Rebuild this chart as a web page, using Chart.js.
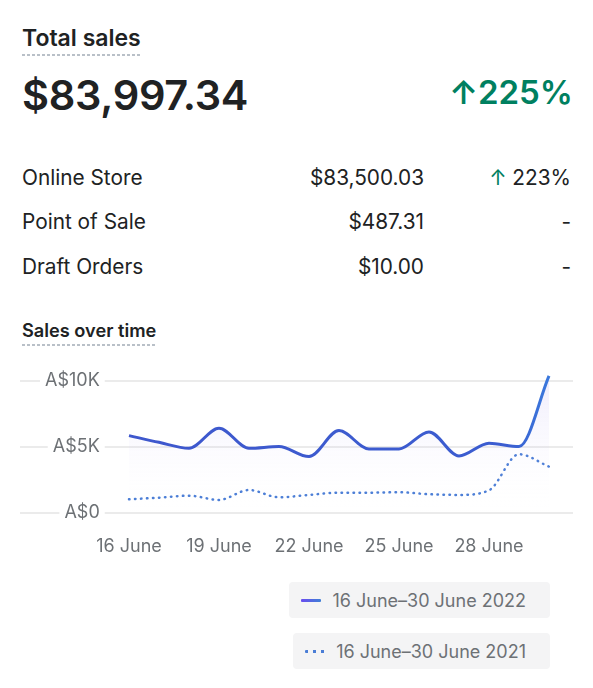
<!DOCTYPE html>
<html>
<head>
<meta charset="utf-8">
<script src="https://cdn.jsdelivr.net/npm/chart.js@4.4.1/dist/chart.umd.min.js"></script>
<style>
  body { margin: 0; width: 593px; height: 688px; background: #fff; font-family: Inter, "Noto Sans", sans-serif; color: #202223; position: relative; overflow: hidden; }
  .dotted { background-image: repeating-linear-gradient(to right, #b9c0c8 0 3px, transparent 3px 5px); background-size: 100% 2px; background-repeat: no-repeat; background-position: left bottom; }
  #title { position: absolute; left: 22px; top: 24px; font-size: 23px; font-weight: 600; padding-bottom: 4px; }
  #total { position: absolute; left: 22px; top: 70px; font-size: 41.5px; font-weight: 600; letter-spacing: -0.3px; }
  #change { position: absolute; right: 20px; top: 72px; font-size: 33px; font-weight: 600; color: #008060; }
  .row { position: absolute; left: 22px; width: 549px; height: 30px; font-size: 20.8px; }
  .row span { position: absolute; top: 0; }
  .row .c2 { right: 147px; }
  .row .c3 { right: 0; }
  .up { color: #008060; }
  #subtitle { position: absolute; left: 22px; top: 319px; font-size: 18.2px; font-weight: 600; padding-bottom: 5px; }
  #wrap { position: absolute; left: 0; top: 360px; width: 593px; height: 200px; }
  #legend { position: absolute; right: 43px; top: 582px; display: flex; flex-direction: column; align-items: flex-end; gap: 15px; }
  .item { background: #f4f4f5; border-radius: 4px; height: 36px; display: flex; align-items: center; padding: 0 24px 0 12px; font-size: 18px; color: #6d7175; }
  .sw { width: 20px; height: 3px; margin-right: 11px; border-radius: 1px; }
</style>
</head>
<body>
<div id="title" class="dotted">Total sales</div>
<div id="total">$83,997.34</div>
<div id="change">↑225%</div>

<div class="row" style="top:165px"><span>Online Store</span><span class="c2">$83,500.03</span><span class="c3"><span class="up" style="position:static">↑</span> 223%</span></div>
<div class="row" style="top:209px"><span>Point of Sale</span><span class="c2">$487.31</span><span class="c3">-</span></div>
<div class="row" style="top:254px"><span>Draft Orders</span><span class="c2">$10.00</span><span class="c3">-</span></div>

<div id="subtitle" class="dotted">Sales over time</div>
<div id="wrap"><canvas id="chart"></canvas></div>
<div id="legend"></div>

<script>
const days = [16, 17, 18, 19, 20, 21, 22, 23, 24, 25, 26, 27, 28, 29, 30];
const sales2022 = [5860, 5350, 4900, 6420, 4900, 5030, 4270, 6240, 4850, 4850, 6140, 4320, 5280, 5030, 10380];
const sales2021 = [1040, 1160, 1310, 990, 1740, 1190, 1370, 1540, 1540, 1570, 1420, 1370, 1720, 4450, 3510];
const xTicks = [16, 19, 22, 25, 28];
const yTicks = [0, 5000, 10000];
const seriesLabels = ['16 June–30 June 2022', '16 June–30 June 2021'];

const ctx = document.getElementById('chart');

function lineGradient(c) {
  const a = c.chart.chartArea;
  if (!a) return '#3c5bcf';
  const g = c.chart.ctx.createLinearGradient(a.left, 0, a.right, 0);
  g.addColorStop(0, '#3f56cc');
  g.addColorStop(0.88, '#3b5dd0');
  g.addColorStop(1, '#3a88e3');
  return g;
}

function fillGradient(c) {
  const a = c.chart.chartArea;
  if (!a) return 'rgba(120,100,230,0.05)';
  const g = c.chart.ctx.createLinearGradient(0, a.top, 0, a.bottom);
  g.addColorStop(0, 'rgba(125,105,235,0.13)');
  g.addColorStop(1, 'rgba(255,255,255,0)');
  return g;
}

const chart = new Chart(ctx, {
  type: 'line',
  data: {
    datasets: [{
      label: seriesLabels[0],
      data: days.map((d, i) => ({ x: d, y: sales2022[i] })),
      borderColor: lineGradient,
      backgroundColor: fillGradient,
      fill: 'origin',
      borderWidth: 3,
      pointRadius: 0,
      cubicInterpolationMode: 'monotone'
    }, {
      label: seriesLabels[1],
      data: days.map((d, i) => ({ x: d, y: sales2021[i] })),
      borderColor: '#4a7dd6',
      borderWidth: 2.5,
      borderDash: [0.5, 5.5],
      borderCapStyle: 'round',
      fill: false,
      pointRadius: 0,
      cubicInterpolationMode: 'monotone'
    }]
  },
  options: {
    responsive: true,
    maintainAspectRatio: false,
    animation: false,
    layout: { padding: { left: 20, right: 20, top: 13, bottom: 2 } },
    plugins: {
      legend: { display: false },
      tooltip: { enabled: false }
    },
    scales: {
      x: {
        type: 'linear',
        min: 12.367,
        max: 30.8,
        afterBuildTicks: s => { s.ticks = xTicks.map(v => ({ value: v })); },
        afterFit: s => { s.height = 45; },
        ticks: {
          padding: 15,
          color: '#6d7175',
          font: { size: 18, family: 'Inter' },
          maxRotation: 0,
          callback: v => v + ' June'
        },
        grid: { display: false },
        border: { display: false }
      },
      y: {
        min: 0,
        max: 10600,
        afterBuildTicks: s => { s.ticks = yTicks.map(v => ({ value: v })); },
        // labels sit on top of the grid lines, so the axis takes no room
        afterFit: s => { s.width = 0; s.paddingTop = 0; s.paddingBottom = 0; },
        ticks: {
          mirror: true,
          crossAlign: 'far',
          padding: 25,
          showLabelBackdrop: true,
          backdropColor: '#ffffff',
          backdropPadding: { left: 5, right: 5, top: 2, bottom: 2 },
          color: '#6d7175',
          font: { size: 18, family: 'Inter' },
          callback: v => v === 0 ? 'A$0' : 'A$' + v / 1000 + 'K'
        },
        grid: { color: '#ebebeb', lineWidth: 2, drawTicks: false },
        border: { display: false }
      }
    }
  }
});

// html legend built from the chart's datasets
const legend = document.getElementById('legend');
chart.data.datasets.forEach((ds, i) => {
  const item = document.createElement('div');
  item.className = 'item';
  const sw = document.createElement('span');
  sw.className = 'sw';
  if (i === 0) {
    sw.style.background = 'linear-gradient(to right, #6a4cf0, #3f80d6)';
  } else {
    sw.style.background = 'repeating-linear-gradient(to right, #4a7dd6 0 3px, transparent 3px 8px)';
  }
  item.appendChild(sw);
  item.appendChild(document.createTextNode(ds.label));
  legend.appendChild(item);
});
</script>
</body>
</html>
